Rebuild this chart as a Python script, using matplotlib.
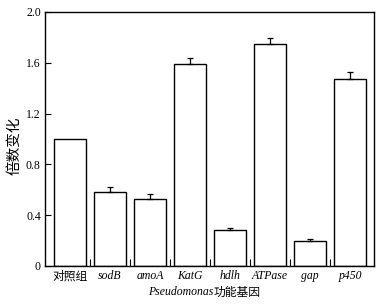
import matplotlib
matplotlib.use("Agg")
import matplotlib.pyplot as plt
import numpy as np

categories = ["对照组", "sodB", "amoA", "KatG", "hdlh", "ATPase", "gap", "p450"]
values = [1.0, 0.58, 0.53, 1.59, 0.28, 1.75, 0.197, 1.475]
errors = [0.0, 0.04, 0.035, 0.05, 0.02, 0.045, 0.016, 0.05]
yticks = [0, 0.4, 0.8, 1.2, 1.6, 2.0]
ytick_labels = ["0", "0.4", "0.8", "1.2", "1.6", "2.0"]

serif = ["Liberation Serif", "Noto Sans CJK SC"]
cjk = ["Noto Sans CJK SC", "Liberation Serif"]

fig = plt.figure(figsize=(3.89, 3.05), dpi=100)
ax = fig.add_axes([45/389, 1 - 266/305, (374-45)/389, (266-12)/305])

x = np.arange(len(categories))
ax.bar(x, values, width=0.82, color="white", edgecolor="black", linewidth=1.0)
yerr = np.array([np.zeros(len(errors)), errors])
mask = np.array(errors) > 0
ax.errorbar(x[mask], np.array(values)[mask], yerr=yerr[:, mask], fmt="none",
            ecolor="black", elinewidth=0.9, capsize=2.5, capthick=0.9)

ax.set_xlim(-0.625, 7.6)
ax.set_ylim(0, 2.0)
ax.set_yticks(yticks)
ax.set_yticklabels(ytick_labels, fontfamily=serif, fontsize=8.5)
ax.tick_params(axis="y", direction="in", length=4, width=0.8, pad=3)

ax.set_xticks(x)
ax.set_xticklabels([])
ax.tick_params(axis="x", which="major", length=0, pad=3)
ax.set_xticks(x[:-1] + 0.5, minor=True)
ax.tick_params(axis="x", which="minor", direction="in", length=5, width=0.8)

for i, c in enumerate(categories):
    if i == 0:
        ax.text(i, -0.03, c, ha="center", va="top", fontsize=8.5,
                fontfamily=cjk, transform=ax.transData)
    else:
        ax.text(i, -0.03, c, ha="center", va="top", fontsize=8.5,
                fontfamily=serif, fontstyle="italic", transform=ax.transData)

for s in ax.spines.values():
    s.set_linewidth(1.0)

# x label: italic Pseudomonas + Chinese
t1 = fig.text(0, 0, "Pseudomonas", fontsize=8.5, fontfamily=serif, fontstyle="italic",
              ha="left", va="center")
t2 = fig.text(0, 0, "功能基因", fontsize=8.5, fontfamily=cjk, ha="left", va="center")
fig.canvas.draw()
r = fig.canvas.get_renderer()
w1 = t1.get_window_extent(r).width
w2 = t2.get_window_extent(r).width
total = w1 + w2
cx = 204
x0 = cx - total / 2
yc = 305 - 292
t1.set_position((x0 / 389, yc / 305))
t2.set_position(((x0 + w1) / 389, yc / 305))

fig.text(14/389, 1 - 146/305, "倍数变化", rotation=90, fontsize=10.5, fontfamily=cjk,
         ha="center", va="center")

fig.savefig("out.png", dpi=100)
